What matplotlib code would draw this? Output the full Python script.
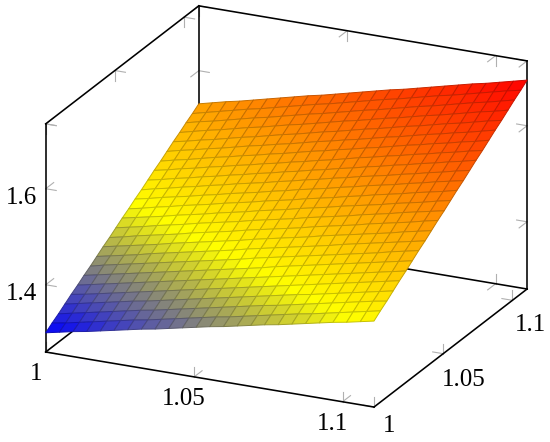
import matplotlib
matplotlib.use('Agg')
import matplotlib.pyplot as plt
from matplotlib.colors import LinearSegmentedColormap
from mpl_toolkits.mplot3d import proj3d
import numpy as np

# Limites de los ejes
x_lim = (1.0, 1.1106)
y_lim = (1.0, 1.1106)
z_lim = (1.26, 1.735)

x_ticks = [1, 1.05, 1.1]
y_ticks = [1, 1.05, 1.1]
z_ticks = [1.4, 1.6, 1.735]

x_labels = ['1', '1.05', '1.1']
y_labels = ['1', '1.05', '1.1']
z_labels = ['1.4', '1.6', '']

# Superficie, una fila por cada y (25 x 25 muestras)
z_rows = [
    [1.300,1.306,1.312,1.317,1.323,1.329,1.335,1.341,1.346,1.352,1.358,1.364,1.370,1.375,1.381,1.387,1.393,1.398,1.404,1.410,1.416,1.422,1.427,1.433,1.439],
    [1.310,1.315,1.321,1.327,1.333,1.339,1.345,1.350,1.356,1.362,1.368,1.374,1.380,1.385,1.391,1.397,1.403,1.409,1.415,1.420,1.426,1.432,1.438,1.444,1.450],
    [1.319,1.325,1.331,1.337,1.343,1.349,1.355,1.360,1.366,1.372,1.378,1.384,1.390,1.396,1.402,1.408,1.413,1.419,1.425,1.431,1.437,1.443,1.449,1.455,1.460],
    [1.329,1.335,1.341,1.347,1.353,1.359,1.364,1.370,1.376,1.382,1.388,1.394,1.400,1.406,1.412,1.418,1.424,1.430,1.435,1.441,1.447,1.453,1.459,1.465,1.471],
    [1.339,1.344,1.350,1.356,1.362,1.368,1.374,1.380,1.386,1.392,1.398,1.404,1.410,1.416,1.422,1.428,1.434,1.440,1.446,1.452,1.458,1.464,1.470,1.476,1.482],
    [1.348,1.354,1.360,1.366,1.372,1.378,1.384,1.390,1.396,1.402,1.408,1.414,1.420,1.426,1.432,1.438,1.444,1.450,1.456,1.462,1.468,1.474,1.480,1.486,1.492],
    [1.358,1.364,1.370,1.376,1.382,1.388,1.394,1.400,1.406,1.412,1.418,1.424,1.430,1.436,1.443,1.449,1.455,1.461,1.467,1.473,1.479,1.485,1.491,1.497,1.503],
    [1.367,1.374,1.380,1.386,1.392,1.398,1.404,1.410,1.416,1.422,1.428,1.434,1.441,1.447,1.453,1.459,1.465,1.471,1.477,1.483,1.489,1.495,1.502,1.508,1.514],
    [1.377,1.383,1.389,1.395,1.402,1.408,1.414,1.420,1.426,1.432,1.438,1.445,1.451,1.457,1.463,1.469,1.475,1.481,1.488,1.494,1.500,1.506,1.512,1.518,1.524],
    [1.387,1.393,1.399,1.405,1.411,1.418,1.424,1.430,1.436,1.442,1.448,1.455,1.461,1.467,1.473,1.479,1.486,1.492,1.498,1.504,1.510,1.516,1.523,1.529,1.535],
    [1.396,1.402,1.409,1.415,1.421,1.427,1.434,1.440,1.446,1.452,1.459,1.465,1.471,1.477,1.483,1.490,1.496,1.502,1.508,1.515,1.521,1.527,1.533,1.540,1.546],
    [1.406,1.412,1.418,1.425,1.431,1.437,1.444,1.450,1.456,1.462,1.469,1.475,1.481,1.487,1.494,1.500,1.506,1.512,1.519,1.525,1.531,1.538,1.544,1.550,1.556],
    [1.416,1.422,1.428,1.434,1.441,1.447,1.453,1.460,1.466,1.472,1.479,1.485,1.491,1.498,1.504,1.510,1.517,1.523,1.529,1.535,1.542,1.548,1.554,1.561,1.567],
    [1.425,1.431,1.438,1.444,1.451,1.457,1.463,1.470,1.476,1.482,1.489,1.495,1.501,1.508,1.514,1.520,1.527,1.533,1.540,1.546,1.552,1.559,1.565,1.571,1.578],
    [1.435,1.441,1.448,1.454,1.460,1.467,1.473,1.480,1.486,1.492,1.499,1.505,1.512,1.518,1.524,1.531,1.537,1.544,1.550,1.556,1.563,1.569,1.576,1.582,1.588],
    [1.444,1.451,1.457,1.464,1.470,1.477,1.483,1.490,1.496,1.502,1.509,1.515,1.522,1.528,1.535,1.541,1.548,1.554,1.560,1.567,1.573,1.580,1.586,1.593,1.599],
    [1.454,1.460,1.467,1.473,1.480,1.486,1.493,1.499,1.506,1.512,1.519,1.525,1.532,1.538,1.545,1.551,1.558,1.564,1.571,1.577,1.584,1.590,1.597,1.603,1.610],
    [1.464,1.470,1.477,1.483,1.490,1.496,1.503,1.509,1.516,1.522,1.529,1.535,1.542,1.548,1.555,1.562,1.568,1.575,1.581,1.588,1.594,1.601,1.607,1.614,1.620],
    [1.473,1.480,1.486,1.493,1.500,1.506,1.513,1.519,1.526,1.532,1.539,1.546,1.552,1.559,1.565,1.572,1.578,1.585,1.592,1.598,1.605,1.611,1.618,1.624,1.631],
    [1.483,1.490,1.496,1.503,1.509,1.516,1.523,1.529,1.536,1.542,1.549,1.556,1.562,1.569,1.575,1.582,1.589,1.595,1.602,1.609,1.615,1.622,1.628,1.635,1.642],
    [1.493,1.499,1.506,1.512,1.519,1.526,1.532,1.539,1.546,1.552,1.559,1.566,1.572,1.579,1.586,1.592,1.599,1.606,1.612,1.619,1.626,1.632,1.639,1.646,1.652],
    [1.502,1.509,1.516,1.522,1.529,1.536,1.542,1.549,1.556,1.562,1.569,1.576,1.583,1.589,1.596,1.603,1.609,1.616,1.623,1.629,1.636,1.643,1.650,1.656,1.663],
    [1.512,1.519,1.525,1.532,1.539,1.546,1.552,1.559,1.566,1.573,1.579,1.586,1.593,1.600,1.606,1.613,1.620,1.627,1.633,1.640,1.647,1.654,1.660,1.667,1.674],
    [1.521,1.528,1.535,1.542,1.549,1.555,1.562,1.569,1.576,1.583,1.589,1.596,1.603,1.610,1.617,1.623,1.630,1.637,1.644,1.650,1.657,1.664,1.671,1.678,1.684],
    [1.531,1.538,1.545,1.551,1.558,1.565,1.572,1.579,1.586,1.592,1.599,1.606,1.613,1.620,1.627,1.633,1.640,1.647,1.654,1.661,1.668,1.674,1.681,1.688,1.695],
]

plt.rcParams['font.family'] = ['Liberation Serif', 'DejaVu Serif']

W, H = 550, 442
fig = plt.figure(figsize=(W / 100, H / 100), dpi=100)
ax = fig.add_axes([0, 0, 1, 1], projection='3d', proj_type='ortho', computed_zorder=False)
ax.set_axis_off()
ax.view_init(elev=21.07, azim=-65)
ax.set_box_aspect((362, 362, 244.3))
ax.set_xlim(*x_lim)
ax.set_ylim(*y_lim)
ax.set_zlim(*z_lim)

x0, x1 = x_lim
y0, y1 = y_lim
z0, z1 = z_lim

# Superficie con color plano (media de las 4 esquinas) y malla mas oscura
Z = np.array(z_rows)
X, Y = np.meshgrid(np.linspace(x0, x1, Z.shape[1]), np.linspace(y0, y1, Z.shape[0]))
cmap = LinearSegmentedColormap.from_list('hot_pgf', [(0, 0, 1), (1, 1, 0), (1, 0.5, 0), (1, 0, 0)])
Zm = (Z[:-1, :-1] + Z[1:, :-1] + Z[:-1, 1:] + Z[1:, 1:]) / 4
colores = cmap((Zm - Z.min()) / (Z.max() - Z.min()))
surf = ax.plot_surface(X, Y, Z, facecolors=colores, rstride=1, cstride=1, shade=False,
                       linewidth=0.7, zorder=3)
bordes = colores.reshape(-1, 4).copy()
bordes[:, :3] *= 0.78
surf.set_edgecolor(bordes)

# Las 9 aristas visibles de la caja
aristas = [
    ([x0, x1], [y0, y0], [z0, z0]),
    ([x1, x1], [y0, y1], [z0, z0]),
    ([x0, x1], [y1, y1], [z0, z0]),
    ([x0, x0], [y0, y1], [z0, z0]),
    ([x0, x1], [y1, y1], [z1, z1]),
    ([x0, x0], [y0, y1], [z1, z1]),
    ([x0, x0], [y0, y0], [z0, z1]),
    ([x0, x0], [y1, y1], [z0, z1]),
    ([x1, x1], [y1, y1], [z0, z1]),
]
for a in aristas:
    ax.plot(*a, color='black', lw=1.15, zorder=2, solid_capstyle='projecting')

# Marcas: cada una son dos rayitas grises hacia adentro de la caja
dx = (x1 - x0) * 0.032
dy = (y1 - y0) * 0.052
dz = (z1 - z0) * 0.044
gris = '#b0b0b0'

def marca(x, y, z, d1, d2):
    for d in (d1, d2):
        ax.plot([x, x + d[0]], [y, y + d[1]], [z, z + d[2]], color=gris, lw=0.8, zorder=1)

for t in x_ticks:
    marca(t, y0, z0, (0, dy, 0), (0, 0, dz))
    marca(t, y1, z0, (0, -dy, 0), (0, 0, dz))
    marca(t, y1, z1, (0, -dy, 0), (0, 0, -dz))
for t in y_ticks:
    marca(x1, t, z0, (-dx, 0, 0), (0, 0, dz))
    marca(x0, t, z0, (dx, 0, 0), (0, 0, dz))
    marca(x0, t, z1, (dx, 0, 0), (0, 0, -dz))
for t in z_ticks:
    marca(x0, y0, t, (dx, 0, 0), (0, dy, 0))
    marca(x0, y1, t, (dx, 0, 0), (0, -dy, 0))
    marca(x1, y1, t, (-dx, 0, 0), (0, -dy, 0))

# Ajustar la posicion del eje para que la caja caiga donde debe
fig.canvas.draw()

def a_plano(x, y, z):
    xp, yp, _ = proj3d.proj_transform(x, y, z, ax.get_proj())
    return xp, yp

def a_pixel(x, y, z):
    return ax.transData.transform(a_plano(x, y, z))

p0 = a_pixel(x0, y0, z0)
p1 = a_pixel(x1, y0, z0)
bb = ax.get_position()
escala = 328.3 / (p1[0] - p0[0])
lado = bb.width * W * escala
izq = 45.7 - (p0[0] - bb.x0 * W) * escala
abajo = (H - 352) - (p0[1] - bb.y0 * H) * escala
ax.set_position([izq / W, abajo / H, lado / W, lado / H])

# Etiquetas con desplazamiento en pixeles respecto a su marca
def etiqueta(texto, x, y, z, off):
    ax.annotate(texto, xy=a_plano(x, y, z), xycoords='data', xytext=off, textcoords='offset pixels',
                ha='center', va='center', fontsize=18, annotation_clip=False, color='black')

for t, s in zip(x_ticks, x_labels):
    etiqueta(s, t, y0, z0, (-10, -22))
for t, s, off in zip(y_ticks, y_labels, [(15, -19), (21, -26), (18, -25)]):
    etiqueta(s, x1, t, z0, off)
for t, s in zip(z_ticks, z_labels):
    if s:
        etiqueta(s, x0, y0, t, (-24, -9))

fig.savefig('out.png', dpi=100)
